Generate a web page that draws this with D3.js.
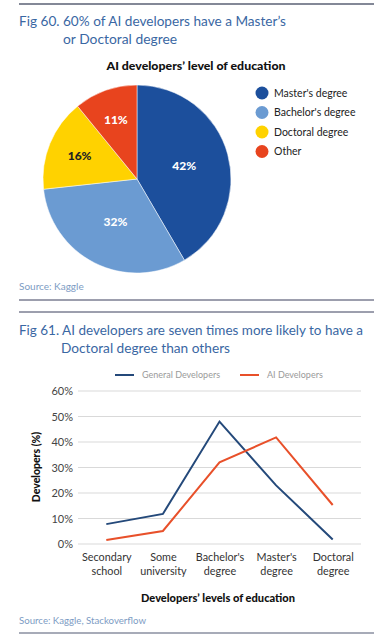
<!DOCTYPE html>
<html>
<head>
<meta charset="utf-8">
<script src="https://cdn.jsdelivr.net/npm/d3@7"></script>
<style>
  body { margin: 0; background: #fff; }
  svg text { font-family: Lato, "Open Sans", sans-serif; }
</style>
</head>
<body>
<svg id="chart" width="387" height="636"></svg>
<script>
// pie data (Fig 60)
let pieLabels = ["Master's degree", "Bachelor's degree", "Doctoral degree", "Other"];
let pieValues = [42, 32, 16, 11];
let pieColors = ["#1c4f9c", "#6b9bd2", "#ffd200", "#e8441e"];
let pieTextColors = ["#fff", "#fff", "#222", "#fff"];

// line data (Fig 61)
let eduLevels = [["Secondary", "school"], ["Some", "university"], ["Bachelor's", "degree"], ["Master's", "degree"], ["Doctoral", "degree"]];
let generalDevs = [7.8, 11.8, 48, 23, 1.8];
let aiDevs = [1.6, 5.1, 32, 41.8, 15.3];
let seriesNames = ["General Developers", "AI Developers"];
let lineColors = ["#24497a", "#e8502a"];
let yTicks = [0, 10, 20, 30, 40, 50, 60];

let titleColor = "#3a67a3", sourceColor = "#7d9cc4", ruleColor = "#3b3f5c", gridColor = "#d9d9d9";

let svg = d3.select("#chart");

// rules
svg.append("line").attr("x1", 19).attr("x2", 374).attr("y1", 4).attr("y2", 4)
  .attr("stroke", "#5a6075").attr("stroke-width", 1.5);
svg.append("line").attr("x1", 19).attr("x2", 374).attr("y1", 300).attr("y2", 300)
  .attr("stroke", ruleColor).attr("stroke-width", 1);
svg.append("line").attr("x1", 19).attr("x2", 374).attr("y1", 312).attr("y2", 312)
  .attr("stroke", ruleColor).attr("stroke-width", 1);
svg.append("line").attr("x1", 19).attr("x2", 374).attr("y1", 633).attr("y2", 633)
  .attr("stroke", "#8a8fa0").attr("stroke-width", 1.5);

// lines: [x, text, width]
function title(lines, y) {
  let t = svg.append("text").attr("fill", titleColor).style("font-size", "14px");
  lines.forEach((l, i) => {
    t.append("tspan").attr("x", l[0]).attr("y", y + i * 17.5)
      .attr("textLength", l[2]).attr("lengthAdjust", "spacingAndGlyphs").text(l[1]);
  });
}
title([[19, "Fig 60. 60% of AI developers have a Master\u2019s", 267], [63, "or Doctoral degree", 114]], 26);
title([[19, "Fig 61. AI developers are seven times more likely to have a", 344], [61, "Doctoral degree than others", 169]], 335);

// ---------- pie ----------
svg.append("text")
  .attr("x", 196).attr("y", 70)
  .attr("text-anchor", "middle")
  .style("font-size", "12px").style("font-weight", "900")
  .attr("fill", "#111")
  .attr("textLength", 179).attr("lengthAdjust", "spacingAndGlyphs")
  .text("AI developers\u2019 level of education");

let cx = 137, cy = 179, r = 94;
let labelRadius = [0.52, 0.51, 0.66, 0.67];
let pie = d3.pie().sort(null);
let arc = d3.arc().innerRadius(0).outerRadius(r);
let arcs = pie(pieValues);

let pg = svg.append("g").attr("transform", `translate(${cx},${cy})`);
pg.selectAll("path")
  .data(arcs)
  .enter()
  .append("path")
  .attr("d", arc)
  .attr("fill", (d, i) => pieColors[i])
  .attr("stroke", "#fff")
  .attr("stroke-width", 0.5);

pg.selectAll(".plabel")
  .data(arcs)
  .enter()
  .append("text")
  .attr("class", "plabel")
  .attr("transform", (d, i) => {
    let lr = r * labelRadius[i];
    return `translate(${d3.arc().innerRadius(lr).outerRadius(lr).centroid(d)})`;
  })
  .attr("dy", "0.35em")
  .attr("text-anchor", "middle")
  .attr("fill", (d, i) => pieTextColors[i])
  .style("font-size", "12px").style("font-weight", "900")
  .text(d => d.data + "%");

let lg = svg.append("g").attr("transform", "translate(262, 93)");
pieLabels.forEach((name, i) => {
  let g = lg.append("g").attr("transform", `translate(0, ${i * 19.5})`);
  g.append("circle").attr("r", 6.5).attr("fill", pieColors[i]);
  g.append("text").attr("x", 12).attr("dy", "0.35em")
    .style("font-size", "10.5px").attr("fill", "#222").text(name);
});

svg.append("text").attr("x", 19).attr("y", 290)
  .style("font-size", "10px").attr("fill", sourceColor).text("Source: Kaggle");

// ---------- line chart ----------
let x = d3.scalePoint().domain(d3.range(eduLevels.length)).range([78, 361]).padding(0.5);
let y = d3.scaleLinear().domain([0, 60]).range([544, 391]);

let grid = svg.append("g");
grid.selectAll("line")
  .data(yTicks)
  .enter()
  .append("line")
  .attr("x1", 78).attr("x2", 361)
  .attr("y1", d => y(d)).attr("y2", d => y(d))
  .attr("stroke", gridColor).attr("stroke-width", 1);

let yAxis = svg.append("g")
  .attr("transform", "translate(73,0)")
  .call(d3.axisLeft(y).tickValues(yTicks).tickFormat(d => d + "%").tickSize(0).tickPadding(0));
yAxis.select(".domain").remove();
yAxis.selectAll("text").style("font-size", "11px").attr("fill", "#444")
  .style("font-family", "Lato, sans-serif");

let xAxis = svg.append("g")
  .attr("transform", "translate(0,548)")
  .call(d3.axisBottom(x).tickSize(0).tickFormat(""));
xAxis.select(".domain").remove();
xAxis.selectAll(".tick").each(function(d) {
  let t = d3.select(this).append("text")
    .attr("text-anchor", "middle").attr("fill", "#333")
    .style("font-size", "10.8px");
  eduLevels[d].forEach((s, k) => {
    t.append("tspan").attr("x", 0).attr("y", 13 + k * 13.5).text(s);
  });
});

let line = d3.line().x((d, i) => x(i)).y(d => y(d));
[generalDevs, aiDevs].forEach((s, k) => {
  svg.append("path")
    .datum(s)
    .attr("d", line)
    .attr("fill", "none")
    .attr("stroke", lineColors[k])
    .attr("stroke-width", 2);
});

// legend
let legX = [115, 240];
seriesNames.forEach((name, k) => {
  svg.append("line").attr("x1", legX[k]).attr("x2", legX[k] + 19)
    .attr("y1", 375).attr("y2", 375)
    .attr("stroke", lineColors[k]).attr("stroke-width", 2);
  svg.append("text").attr("x", legX[k] + 27).attr("y", 375).attr("dy", "0.35em")
    .style("font-size", "9px").attr("fill", "#9a9a9a").text(name);
});

svg.append("text")
  .attr("transform", "translate(40,467) rotate(-90)")
  .attr("text-anchor", "middle")
  .style("font-size", "10.5px").style("font-weight", "900").attr("fill", "#111")
  .text("Developers (%)");

svg.append("text")
  .attr("x", 218).attr("y", 602)
  .attr("text-anchor", "middle")
  .style("font-size", "11px").style("font-weight", "900").attr("fill", "#111")
  .attr("textLength", 154).attr("lengthAdjust", "spacingAndGlyphs")
  .text("Developers\u2019 levels of education");

svg.append("text").attr("x", 19).attr("y", 624)
  .style("font-size", "10px").attr("fill", sourceColor)
  .attr("textLength", 127).attr("lengthAdjust", "spacingAndGlyphs")
  .text("Source: Kaggle, Stackoverflow");
</script>
</body>
</html>
